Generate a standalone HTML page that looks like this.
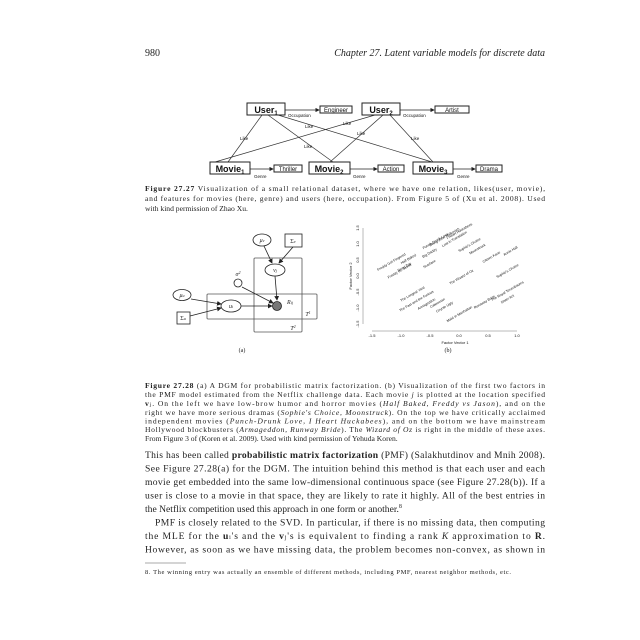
<!DOCTYPE html>
<html><head><meta charset="utf-8"><style>
html,body{margin:0;padding:0;background:#fff;}
svg{display:block}
.s{font-family:"Liberation Serif",serif;fill:#222}
.a{font-family:"Liberation Sans",sans-serif;fill:#111}
</style></head><body>
<svg width="640" height="640" viewBox="0 0 640 640" xmlns="http://www.w3.org/2000/svg">
<defs><marker id="ar" markerWidth="6" markerHeight="6" refX="5" refY="3" orient="auto"><path d="M0,0L6,3L0,6z" fill="#222"/></marker></defs>
<text class="s" x="145" y="56" font-size="10">980</text>
<text class="s" x="545" y="56" font-size="10" font-style="italic" text-anchor="end">Chapter 27.  Latent variable models for discrete data</text>

<g stroke="#333" stroke-width="0.7" fill="none">
<line x1="262" y1="115" x2="228" y2="162"/><line x1="268" y1="115" x2="333" y2="162"/><line x1="278" y1="115" x2="432" y2="162"/>
<line x1="375" y1="115" x2="215" y2="162"/><line x1="383" y1="115" x2="330" y2="162"/><line x1="390" y1="115" x2="433" y2="162"/>
</g>
<g stroke="#222" stroke-width="1" fill="#fff">
<rect x="247" y="103" width="38" height="12"/><rect x="320" y="106" width="32" height="7"/>
<rect x="362" y="103" width="38" height="12"/><rect x="435" y="106" width="34" height="7"/>
<rect x="210" y="162" width="40" height="12"/><rect x="274" y="165" width="28" height="7"/>
<rect x="309" y="162" width="41" height="12"/><rect x="378" y="165" width="26" height="7"/>
<rect x="413" y="162" width="40" height="12"/><rect x="476" y="165" width="26" height="7"/>
</g>
<g stroke="#222" stroke-width="0.7" marker-end="url(#ar)">
<line x1="285" y1="110" x2="319" y2="110"/><line x1="400" y1="110" x2="434" y2="110"/>
<line x1="250" y1="169" x2="273" y2="169"/><line x1="350" y1="169" x2="377" y2="169"/><line x1="453" y1="169" x2="475" y2="169"/>
</g>
<g class="a" font-weight="bold">
<text x="266" y="113" font-size="9" text-anchor="middle">User<tspan font-size="6" dy="2">1</tspan></text>
<text x="381" y="113" font-size="9" text-anchor="middle">User<tspan font-size="6" dy="2">2</tspan></text>
<text x="230" y="172" font-size="9" text-anchor="middle">Movie<tspan font-size="6" dy="2">1</tspan></text>
<text x="329" y="172" font-size="9" text-anchor="middle">Movie<tspan font-size="6" dy="2">2</tspan></text>
<text x="433" y="172" font-size="9" text-anchor="middle">Movie<tspan font-size="6" dy="2">3</tspan></text>
<text x="336" y="112" font-size="6" font-weight="normal" text-anchor="middle">Engineer</text>
<text x="452" y="112" font-size="6" font-weight="normal" text-anchor="middle">Artist</text>
<text x="288" y="171" font-size="6" font-weight="normal" text-anchor="middle">Thriller</text>
<text x="391" y="171" font-size="6" font-weight="normal" text-anchor="middle">Action</text>
<text x="489" y="171" font-size="6" font-weight="normal" text-anchor="middle">Drama</text>
</g>
<g class="a" font-size="4.5">
<text x="288" y="117">Occupation</text><text x="403" y="117">Occupation</text>
<text x="254" y="178">Genre</text><text x="353" y="178">Genre</text><text x="457" y="178">Genre</text>
<text x="240" y="140">Like</text><text x="305" y="128">Like</text><text x="343" y="125">Like</text>
<text x="357" y="135">Like</text><text x="304" y="148">Like</text><text x="411" y="140">Like</text>
</g>
<g class="s" font-size="7.6">
<text x="145" y="191" textLength="400" lengthAdjust="spacing"><tspan font-weight="bold">Figure 27.27</tspan>   Visualization of a small relational dataset, where we have one relation, likes(user, movie),</text>
<text x="145" y="201" textLength="400" lengthAdjust="spacing">and features for movies (here, genre) and users (here, occupation). From Figure 5 of (Xu et al. 2008). Used</text>
<text x="145" y="211">with kind permission of Zhao Xu.</text>
</g>

<g stroke="#555" stroke-width="0.8" fill="none">
<rect x="207" y="294" width="110" height="25" rx="1"/>
<rect x="254" y="258" width="48" height="74" rx="1"/>
</g>
<g stroke="#222" stroke-width="0.8" marker-end="url(#ar)">
<line x1="264" y1="246" x2="272" y2="263"/><line x1="293" y1="247" x2="279" y2="263"/>
<line x1="275" y1="276" x2="277" y2="300"/><line x1="242" y1="287" x2="273" y2="303"/>
<line x1="191" y1="299" x2="221" y2="304"/><line x1="190" y1="316" x2="221" y2="308"/>
<line x1="241" y1="306" x2="272" y2="306"/>
</g>
<g stroke="#222" stroke-width="0.8" fill="#fff">
<ellipse cx="262" cy="240" rx="9" ry="6"/><rect x="285" y="234" width="17" height="13"/>
<ellipse cx="275" cy="270" rx="10" ry="6"/><circle cx="238" cy="283" r="4"/>
<ellipse cx="182" cy="295" rx="9" ry="5.5"/><ellipse cx="231" cy="306" rx="10" ry="6"/>
<rect x="177" y="312" width="13" height="12"/>
<circle cx="277" cy="306" r="4.5" fill="#777"/>
</g>
<g class="s" font-size="6" font-style="italic" text-anchor="middle">
<text x="262" y="242">μ<tspan font-size="4">v</tspan></text><text x="293" y="243" font-style="normal">Σ<tspan font-size="4">v</tspan></text>
<text x="275" y="272">v<tspan font-size="4">j</tspan></text><text x="238" y="276">σ<tspan font-size="4" dy="-2">2</tspan></text>
<text x="182" y="297">μ<tspan font-size="4">u</tspan></text><text x="231" y="308">u<tspan font-size="4">i</tspan></text>
<text x="183" y="320" font-style="normal">Σ<tspan font-size="4">u</tspan></text>
<text x="290" y="304">R<tspan font-size="4">ij</tspan></text><text x="308" y="316">T<tspan font-size="4" dy="-2">1</tspan></text>
<text x="293" y="330">T<tspan font-size="4" dy="-2">2</tspan></text>
<text x="242" y="352" font-style="normal">(a)</text>
</g>

<g stroke="#777" stroke-width="0.5">
<line x1="363" y1="228" x2="363" y2="324"/><line x1="372" y1="331" x2="517" y2="331"/>
</g>
<g class="a" font-size="4" fill="#444" text-anchor="middle">
<text x="372" y="337">-1.5</text><text x="401" y="337">-1.0</text><text x="430" y="337">-0.5</text><text x="459" y="337">0.0</text><text x="488" y="337">0.5</text><text x="517" y="337">1.0</text>
<text x="455" y="344">Factor Vector 1</text>
<text transform="translate(352,276) rotate(-90)">Factor Vector 2</text>
<text transform="translate(359,228) rotate(-90)">1.5</text><text transform="translate(359,244) rotate(-90)">1.0</text>
<text transform="translate(359,260) rotate(-90)">0.5</text><text transform="translate(359,276) rotate(-90)">0.0</text>
<text transform="translate(359,292) rotate(-90)">-0.5</text><text transform="translate(359,308) rotate(-90)">-1.0</text>
<text transform="translate(359,324) rotate(-90)">-1.5</text>
</g>
<g class="a" font-size="3.5" fill="#333" text-anchor="middle">
<text transform="translate(392,263) rotate(-30)">Freddy Got Fingered</text>
<text transform="translate(409,260) rotate(-30)">Half Baked</text>
<text transform="translate(400,272) rotate(-30)">Freddy vs. Jason</text>
<text transform="translate(405,268) rotate(-30)">Road Trip</text>
<text transform="translate(430,254) rotate(-30)">Big Daddy</text>
<text transform="translate(436,242) rotate(-30)">Punch-Drunk Love</text>
<text transform="translate(445,238) rotate(-30)">Being John Malkovich</text>
<text transform="translate(455,240) rotate(-30)">Lost in Translation</text>
<text transform="translate(460,232) rotate(-30)">I Heart Huckabees</text>
<text transform="translate(470,246) rotate(-30)">Sophie's Choice</text>
<text transform="translate(478,250) rotate(-30)">Moonstruck</text>
<text transform="translate(492,258) rotate(-30)">Citizen Kane</text>
<text transform="translate(511,252) rotate(-30)">Annie Hall</text>
<text transform="translate(430,265) rotate(-30)">Scarface</text>
<text transform="translate(462,278) rotate(-30)">The Wizard of Oz</text>
<text transform="translate(413,295) rotate(-30)">The Longest Yard</text>
<text transform="translate(417,302) rotate(-30)">The Fast and the Furious</text>
<text transform="translate(427,305) rotate(-30)">Armageddon</text>
<text transform="translate(438,304) rotate(-30)">Catwoman</text>
<text transform="translate(445,308) rotate(-30)">Coyote Ugly</text>
<text transform="translate(460,315) rotate(-30)">Maid in Manhattan</text>
<text transform="translate(485,303) rotate(-30)">Runaway Bride</text>
<text transform="translate(508,272) rotate(-30)">Sophie's Choice</text>
<text transform="translate(508,292) rotate(-30)">The Royal Tenenbaums</text>
<text transform="translate(508,300) rotate(-30)">Sister Act</text>
</g>
<text class="s" x="448" y="352" font-size="6" text-anchor="middle">(b)</text>

<g class="s" font-size="7.6">
<text x="145" y="388" textLength="400" lengthAdjust="spacing"><tspan font-weight="bold">Figure 27.28</tspan>   (a) A DGM for probabilistic matrix factorization. (b) Visualization of the first two factors in</text>
<text x="145" y="397" textLength="400" lengthAdjust="spacing">the PMF model estimated from the Netflix challenge data. Each movie <tspan font-style="italic">j</tspan> is plotted at the location specified</text>
<text x="145" y="406" textLength="400" lengthAdjust="spacing"><tspan font-weight="bold">v</tspan><tspan font-size="5.5">j</tspan>. On the left we have low-brow humor and horror movies (<tspan font-style="italic">Half Baked, Freddy vs Jason</tspan>), and on the</text>
<text x="145" y="415" textLength="400" lengthAdjust="spacing">right we have more serious dramas (<tspan font-style="italic">Sophie's Choice, Moonstruck</tspan>). On the top we have critically acclaimed</text>
<text x="145" y="423.5" textLength="400" lengthAdjust="spacing">independent movies (<tspan font-style="italic">Punch-Drunk Love, I Heart Huckabees</tspan>), and on the bottom we have mainstream</text>
<text x="145" y="432" textLength="400" lengthAdjust="spacing">Hollywood blockbusters (<tspan font-style="italic">Armageddon, Runway Bride</tspan>). The <tspan font-style="italic">Wizard of Oz</tspan> is right in the middle of these axes.</text>
<text x="145" y="441">From Figure 3 of (Koren et al. 2009). Used with kind permission of Yehuda Koren.</text>
</g>

<g class="s" font-size="9.6">
<text x="145" y="458" textLength="400" lengthAdjust="spacing">This has been called <tspan font-weight="bold">probabilistic matrix factorization</tspan> (PMF) (Salakhutdinov and Mnih 2008).</text>
<text x="145" y="471.5" textLength="400" lengthAdjust="spacing">See Figure 27.28(a) for the DGM. The intuition behind this method is that each user and each</text>
<text x="145" y="485" textLength="400" lengthAdjust="spacing">movie get embedded into the same low-dimensional continuous space (see Figure 27.28(b)). If a</text>
<text x="145" y="498.5" textLength="400" lengthAdjust="spacing">user is close to a movie in that space, they are likely to rate it highly. All of the best entries in</text>
<text x="145" y="512">the Netflix competition used this approach in one form or another.<tspan font-size="6" dy="-4">8</tspan></text>
<text x="155" y="525.5" textLength="390" lengthAdjust="spacing">PMF is closely related to the SVD. In particular, if there is no missing data, then computing</text>
<text x="145" y="539" textLength="400" lengthAdjust="spacing">the MLE for the <tspan font-weight="bold">u</tspan><tspan font-size="6">i</tspan>'s and the <tspan font-weight="bold">v</tspan><tspan font-size="6">j</tspan>'s is equivalent to finding a rank <tspan font-style="italic">K</tspan> approximation to <tspan font-weight="bold">R</tspan>.</text>
<text x="145" y="552.5" textLength="400" lengthAdjust="spacing">However, as soon as we have missing data, the problem becomes non-convex, as shown in</text>
</g>
<line x1="145" y1="563" x2="186" y2="563" stroke="#555" stroke-width="0.6"/>
<text class="s" x="145" y="574" font-size="6.5" textLength="366" lengthAdjust="spacing">8. The winning entry was actually an ensemble of different methods, including PMF, nearest neighbor methods, etc.</text>
</svg>
</body></html>
